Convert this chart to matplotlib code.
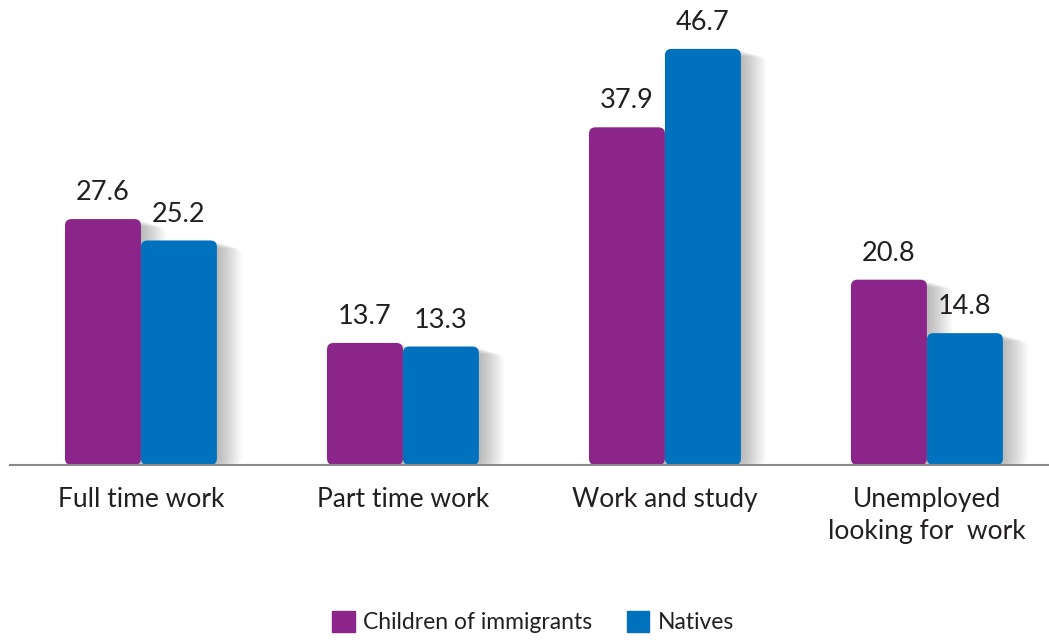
import matplotlib.pyplot as plt
import numpy as np
from matplotlib.patches import FancyBboxPatch, Patch

# Data
categories = ["Full time work", "Part time work", "Work and study", "Unemployed\nlooking for  work"]
immigrants = [27.6, 13.7, 37.9, 20.8]
natives = [25.2, 13.3, 46.7, 14.8]
series_names = ["Children of immigrants", "Natives"]

purple = "#8B2589"
blue = "#0071BC"
text_color = "#231F20"

plt.rcParams['font.family'] = ['Lato', 'DejaVu Sans']

fig = plt.figure(figsize=(10.49, 6.40), dpi=100)
ax = fig.add_axes([0.0095, 0.2734, 0.9905, 0.724])

x = np.arange(len(categories))
width = 0.29
ax.set_xlim(-0.5, 3.466)
ax.set_ylim(0, 52)

# aspect for rounded corners: data units per pixel in y / in x
ax_w = 0.9905 * 1049
ax_h = 0.724 * 640
aspect = (52 / ax_h) / (3.966 / ax_w)


def draw_bars(xs, vals, color):
    bars = ax.bar(xs, vals, width, color=color)
    for b in bars:
        bx, by = b.get_x(), b.get_y()
        bw, bh = b.get_width(), b.get_height()
        b.set_visible(False)
        # soft shadow to the right
        for k in range(12):
            off = 0.004 * (k + 1)
            sh = FancyBboxPatch((bx + off * 2, by), bw, bh - off * aspect * 0.6,
                                boxstyle="round,pad=0,rounding_size=0.03",
                                mutation_aspect=aspect, fc="#000000",
                                ec="none", alpha=0.025, zorder=1)
            ax.add_patch(sh)
        p = FancyBboxPatch((bx, by), bw, bh,
                           boxstyle="round,pad=0,rounding_size=0.025",
                           mutation_aspect=aspect, fc=color, ec="none", zorder=3)
        ax.add_patch(p)
    return bars


b1 = draw_bars(x - width / 2, immigrants, purple)
b2 = draw_bars(x + width / 2, natives, blue)

for xs, vals in ((x - width / 2, immigrants), (x + width / 2, natives)):
    for xi, v in zip(xs, vals):
        ax.annotate(f"{v:.1f}", xy=(xi, v), xytext=(0, 10), textcoords="offset points",
                    ha="center", va="bottom", fontsize=19.5, color=text_color)

ax.set_xticks(x)
ax.set_xticklabels(categories, fontsize=19, color=text_color, linespacing=1.35)
ax.tick_params(axis='x', length=0, pad=16)
ax.set_yticks([])
for s in ['top', 'left', 'right']:
    ax.spines[s].set_visible(False)
ax.spines['bottom'].set_color("#8a8a8a")
ax.spines['bottom'].set_linewidth(1.5)
ax.spines['bottom'].set_zorder(5)

handles = [Patch(color=purple), Patch(color=blue)]
fig.legend(handles, series_names, loc="lower center", ncol=2, frameon=False,
           fontsize=16.5, handlelength=1.0, handleheight=1.0, handletextpad=0.35,
           columnspacing=1.5, bbox_to_anchor=(0.508, -0.022), labelcolor=text_color)

fig.savefig("out.png", dpi=100)
